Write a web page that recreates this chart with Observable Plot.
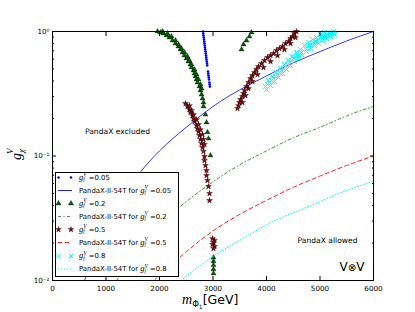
<!DOCTYPE html>
<html><head><meta charset="utf-8">
<script src="https://cdn.jsdelivr.net/npm/d3@7"></script>
<script src="https://cdn.jsdelivr.net/npm/@observablehq/plot@0.6"></script>
<style>
html,body{margin:0;padding:0;background:#fff;}
#chart svg{display:block;}
</style></head><body><div id="chart"></div>
<script>
// ---- scatter g_f^V = 0.05 (blue dots)
const blueMass = [2813,2818,2822,2827,2832,2836,2841,2846,2850,2855,2860,2864,2869,2874,2879,2883,2888,2893,2907,2911,2916,2921,2925,2933,2937,2942];
const blueG    = [1.000,0.964,0.929,0.895,0.862,0.831,0.801,0.772,0.744,0.717,0.691,0.666,0.641,0.618,0.596,0.574,0.553,0.533,0.477,0.460,0.443,0.427,0.412,0.389,0.375,0.361];
// ---- scatter g_f^V = 0.2 (green triangles)
const greenMass = [1963,2019,2075,2131,2187,2243,2299,2355,2393,2430,2467,2505,2542,2579,2598,2636,2654,2673,2692,2710,2748,2766,2785,2804,2822,2822,2860,2879,2897,2916,2953,
  2056,2150,2224,2299,2355,2411,2467,2523,2561,2598,2654,2692,2729,2766,2785,
  3009,3009,3009,3009,3009,
  3720,3682,3626,3570,3533];
const greenG = [1.000,0.982,0.964,0.929,0.895,0.847,0.801,0.758,0.717,0.678,0.642,0.607,0.574,0.543,0.514,0.486,0.460,0.435,0.412,0.389,0.362,0.336,0.312,0.290,0.269,0.250,0.215,0.186,0.155,0.138,0.101,
  1.000,0.964,0.912,0.847,0.786,0.730,0.678,0.630,0.585,0.543,0.495,0.451,0.412,0.375,0.348,
  0.0153,0.0143,0.0133,0.0123,0.0114,
  0.982,0.912,0.847,0.786,0.717];
// ---- scatter g_f^V = 0.5 (red stars)
const redMass = [2486,2523,2561,2579,2617,2636,2654,2692,2710,2729,2748,2766,2785,2804,2822,2841,2841,2860,2879,2879,2897,2916,2935,2935,
  2561,2598,2636,2692,2729,2766,2804,2822,2841,
  2991,3028,3009,2991,3028,3009,
  3458,3477,3495,3514,3551,3570,3589,3626,3664,3701,3738,3776,3813,3850,3907,3963,4019,4075,4131,4187,4243,4299,4355,4411,4449,4486,4523,4561,
  3551,3607,3664,3738,3832,3944,4075,4206,4336,4449,4542];
const redG = [0.264,0.250,0.236,0.224,0.211,0.200,0.189,0.176,0.166,0.157,0.146,0.136,0.126,0.117,0.109,0.0991,0.0920,0.0839,0.0764,0.0697,0.0636,0.0569,0.0500,0.0439,
  0.254,0.232,0.215,0.196,0.179,0.163,0.149,0.136,0.124,
  0.0217,0.0210,0.0202,0.0195,0.0188,0.0181,
  0.241,0.254,0.269,0.284,0.301,0.318,0.336,0.362,0.389,0.419,0.443,0.468,0.495,0.523,0.553,0.585,0.618,0.642,0.666,0.704,0.730,0.758,0.801,0.831,0.879,0.912,0.964,1.000,
  0.269,0.306,0.348,0.397,0.451,0.514,0.574,0.642,0.717,0.801,0.895];
// ---- scatter g_f^V = 0.8 (cyan crosses)
const cyanMass = [3981,4056,4131,4206,4280,4355,4430,4505,4579,4654,4729,4804,4879,4953,5028,5103,5178,5252,
  4037,4112,4187,4262,4336,4411,4486,4561,4636,4710,4785,4860,4935,5009,5084,
  4000,4075,4150,4224,4299,4374,4449,4523,4598,4673,4748,4822,4897,4972,5047,5121,5196,5271,
  4019,4094,4168,4243,4318,4393,4467,4542,4617,4692,4766,4841,4916,4991,5065,5140,5215];
const cyanG = [0.362,0.389,0.419,0.451,0.486,0.523,0.564,0.607,0.642,0.678,0.730,0.772,0.816,0.847,0.895,0.929,0.964,1.000,
  0.404,0.435,0.468,0.504,0.543,0.585,0.630,0.678,0.717,0.772,0.816,0.862,0.895,0.946,0.982,
  0.342,0.368,0.397,0.427,0.460,0.495,0.533,0.574,0.607,0.642,0.691,0.730,0.772,0.801,0.847,0.879,0.912,0.946,
  0.375,0.404,0.435,0.468,0.504,0.543,0.585,0.624,0.660,0.704,0.751,0.794,0.831,0.871,0.912,0.946,0.982];
// ---- PandaX-II-54T limit curves
const limBlueMass  = [600,1000,1500,2000,2500,3000,3500,4000,4500,5000,5500,6000];
const limBlueG     = [0.010,0.028,0.062,0.11,0.17,0.25,0.34,0.44,0.56,0.69,0.84,1.0];
const limGreenMass = [1200,1500,2000,2500,3000,3500,4000,4500,5000,5500,6000];
const limGreenG    = [0.010,0.0156,0.028,0.043,0.062,0.085,0.11,0.14,0.17,0.21,0.25];
const limRedMass   = [1900,2000,2500,3000,3500,4000,4500,5000,5500,6000];
const limRedG      = [0.010,0.011,0.017,0.025,0.034,0.044,0.056,0.069,0.084,0.10];
const limCyanMass  = [2400,3000,3500,4000,4500,5000,5500,6000];
const limCyanG     = [0.010,0.0156,0.021,0.028,0.035,0.043,0.053,0.0625];
// ---- axes
const xTicks = [0,1000,2000,3000,4000,5000,6000];
const yMajor = [0.01,0.1,1];
const yMajorLabels = ["10\u207B\u00B2","10\u207B\u00B9","10\u2070"];
const yMinor = [0.02,0.03,0.04,0.05,0.06,0.07,0.08,0.09,0.2,0.3,0.4,0.5,0.6,0.7,0.8,0.9];
// ---- annotations
const noteText = ["PandaX excluded","PandaX allowed"];
const noteMass = [1215,5140];
const noteG    = [0.157,0.021];

const pts = (ms, gs) => ms.map((m, i) => ({m, g: gs[i]}));
const notes = noteText.map((t, i) => ({t, m: noteMass[i], g: noteG[i]}));
const yLab = new Map(yMajor.map((v, i) => [v, yMajorLabels[i]]));

const plot = Plot.plot({
  width: 415, height: 312,
  marginLeft: 52, marginRight: 42, marginTop: 31, marginBottom: 32,
  style: {fontFamily: "DejaVu Sans", fontSize: "7.2px", background: "white", color: "black", overflow: "visible"},
  x: {domain: [0, 6000]},
  y: {type: "log", domain: [0.01, 1]},
  marks: [
    Plot.dot(pts(blueMass, blueG), {x: "m", y: "g", r: 1.3, fill: "#0000ff", stroke: "none"}),
    Plot.line(pts(limBlueMass, limBlueG), {x: "m", y: "g", stroke: "#2020ff", strokeWidth: 0.9, curve: "natural", clip: true}),
    Plot.dot(pts(greenMass, greenG), {x: "m", y: "g", symbol: "triangle", r: 1.9, fill: "#056005", stroke: "#000", strokeWidth: 0.35}),
    Plot.line(pts(limGreenMass, limGreenG), {x: "m", y: "g", stroke: "#3a9a3a", strokeWidth: 1, strokeDasharray: "3,2.5,1,2.5", curve: "natural", clip: true}),
    Plot.dot(pts(redMass, redG), {x: "m", y: "g", symbol: "star", r: 1.85, fill: "#8b0000", stroke: "#000", strokeWidth: 0.35}),
    Plot.line(pts(limRedMass, limRedG), {x: "m", y: "g", stroke: "#ff2020", strokeWidth: 1, strokeDasharray: "4,3", curve: "natural", clip: true}),
    Plot.dot(pts(cyanMass, cyanG), {x: "m", y: "g", symbol: "times", r: 2.3, stroke: "#00ffff", strokeWidth: 1}),
    Plot.line(pts(limCyanMass, limCyanG), {x: "m", y: "g", stroke: "#00ffff", strokeWidth: 1, strokeDasharray: "1,2", curve: "natural", clip: true}),
    Plot.text(notes, {x: "m", y: "g", text: "t", fontSize: 7.6, fill: "black"}),
    Plot.frame({stroke: "black", strokeWidth: 1}),
    Plot.axisX(xTicks, {anchor: "bottom", tickSize: 0, tickPadding: 5, tickFormat: d => String(d), label: null, fontSize: 7.2}),
    Plot.axisX(xTicks, {anchor: "bottom", tickSize: -4, tickFormat: () => "", label: null}),
    Plot.axisX(xTicks, {anchor: "top", tickSize: -4, tickFormat: () => "", label: null}),
    Plot.axisY(yMajor, {anchor: "left", tickSize: 0, tickPadding: 3, tickFormat: d => yLab.get(d), label: null, fontSize: 7.2}),
    Plot.axisY(yMajor, {anchor: "left", tickSize: -4, tickFormat: () => "", label: null}),
    Plot.axisY(yMinor, {anchor: "left", tickSize: -2, tickFormat: () => "", label: null}),
    Plot.axisY(yMajor, {anchor: "right", tickSize: -4, tickFormat: () => "", label: null}),
    Plot.axisY(yMinor, {anchor: "right", tickSize: -2, tickFormat: () => "", label: null})
  ]
});
document.getElementById("chart").append(plot);

// ---- extra text, legend
const svg = d3.select(plot);
const ital = "Liberation Serif";
// V ⊗ V
const vv = svg.append("text").attr("x", 352).attr("y", 271).attr("text-anchor", "middle")
  .attr("font-family", "DejaVu Sans").attr("font-size", 12).attr("fill", "black");
vv.append("tspan").text("V");
vv.append("tspan").attr("font-size", 10).text("\u2297");
vv.append("tspan").attr("font-size", 12).text("V");
// x label
const xl = svg.append("text").attr("x", 182).attr("y", 304).attr("text-anchor", "start").attr("font-family", "DejaVu Sans").attr("fill", "black");
xl.append("tspan").attr("font-family", ital).attr("font-style", "italic").attr("font-size", 14).text("m");
xl.append("tspan").attr("font-size", 8.5).attr("dy", 3).text("\u03A6");
xl.append("tspan").attr("font-size", 6).attr("dy", 2).text("1");
xl.append("tspan").attr("font-size", 12.5).attr("dy", -5).text("[GeV]");
// y label
const yl = svg.append("text").attr("transform", "translate(21,160) rotate(-90)").attr("text-anchor", "start").attr("fill", "black");
yl.append("tspan").attr("font-family", ital).attr("font-style", "italic").attr("font-size", 14).text("g");
yl.append("tspan").attr("font-family", ital).attr("font-style", "italic").attr("font-size", 9).attr("dy", 3).text("\u03C7");
yl.append("tspan").attr("font-family", ital).attr("font-style", "italic").attr("font-size", 9).attr("dx", -5).attr("dy", -11).text("V");

// legend
const lg = svg.append("g").attr("text-anchor", "start");
lg.append("rect").attr("x", 55.5).attr("y", 172.5).attr("width", 123).attr("height", 104)
  .attr("fill", "white").attr("stroke", "black").attr("stroke-width", 1);
const entries = [
  {kind: "dot", color: "#0000ff", pre: "", val: "=0.05"},
  {kind: "line", color: "#2020ff", dash: null, pre: "PandaX-II-54T for ", val: "=0.05"},
  {kind: "tri", color: "#056005", pre: "", val: "=0.2"},
  {kind: "line", color: "#3a9a3a", dash: "3,2.5,1,2.5", pre: "PandaX-II-54T for ", val: "=0.2"},
  {kind: "star", color: "#8b0000", pre: "", val: "=0.5"},
  {kind: "line", color: "#ff2020", dash: "4,3", pre: "PandaX-II-54T for ", val: "=0.5"},
  {kind: "x", color: "#00ffff", pre: "", val: "=0.8"},
  {kind: "line", color: "#00ffff", dash: "1,2", pre: "PandaX-II-54T for ", val: "=0.8"}
];
const rowY = [177.5, 190.5, 203.5, 216.5, 229.5, 242.5, 256, 269];
entries.forEach((e, i) => {
  const y = rowY[i];
  if (e.kind === "line") {
    lg.append("line").attr("x1", 58).attr("x2", 72).attr("y1", y).attr("y2", y)
      .attr("stroke", e.color).attr("stroke-width", 1).attr("stroke-dasharray", e.dash);
  } else {
    [58.5, 71].forEach(x => {
      let sym;
      if (e.kind === "dot") sym = d3.symbol(d3.symbolCircle, 5);
      else if (e.kind === "tri") sym = d3.symbol(d3.symbolTriangle, 12);
      else if (e.kind === "star") sym = d3.symbol(d3.symbolStar, 10);
      else sym = d3.symbol(d3.symbolTimes, 18);
      const p = lg.append("path").attr("d", sym()).attr("transform", `translate(${x},${y})`);
      if (e.kind === "x") p.attr("fill", "none").attr("stroke", e.color).attr("stroke-width", 1);
      else if (e.kind === "dot") p.attr("fill", e.color);
      else p.attr("fill", e.color).attr("stroke", "#000").attr("stroke-width", 0.35);
    });
  }
  const t = lg.append("text").attr("x", 79).attr("y", y + 2.4).attr("text-anchor", "start").attr("font-family", "DejaVu Sans").attr("font-size", 6.9).attr("fill", "black");
  if (e.pre) t.append("tspan").text(e.pre);
  t.append("tspan").attr("font-family", ital).attr("font-style", "italic").attr("font-size", 8.5).text("g");
  t.append("tspan").attr("font-family", ital).attr("font-style", "italic").attr("font-size", 5.3).attr("dy", 1.5).text("f");
  t.append("tspan").attr("font-family", ital).attr("font-style", "italic").attr("font-size", 5.3).attr("dx", -1.5).attr("dy", -5).text("V");
  t.append("tspan").attr("dy", 3.5).text(" " + e.val);
});
</script>
</body></html>
